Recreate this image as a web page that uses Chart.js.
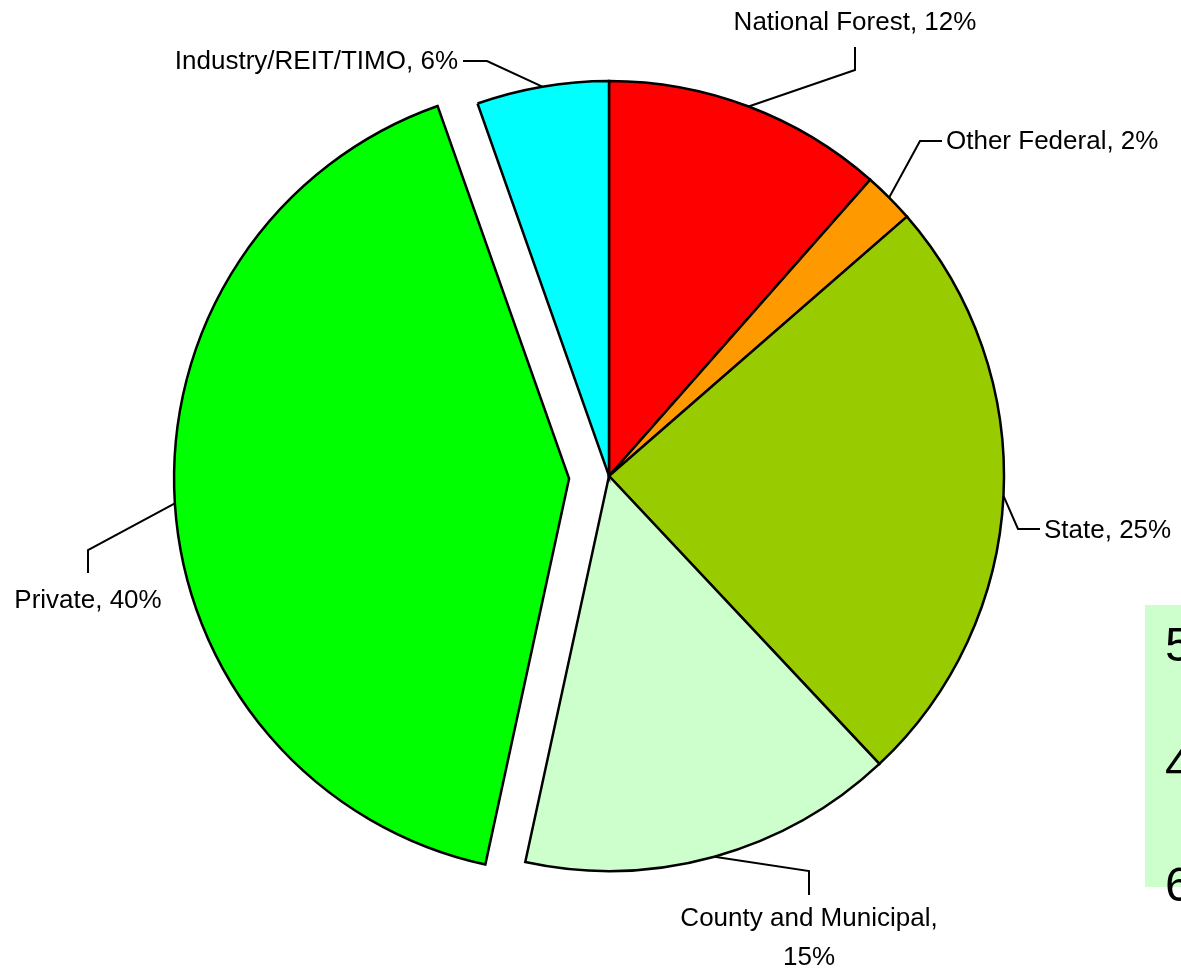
<!DOCTYPE html>
<html>
<head>
<meta charset="utf-8">
<script src="https://cdn.jsdelivr.net/npm/chart.js@4.4.0/dist/chart.umd.min.js"></script>
<style>
  html, body { margin: 0; padding: 0; background: #fff; overflow: hidden; }
  #wrap { position: relative; width: 1181px; height: 970px; }
  #ownerChart { position: absolute; left: 0; top: 0; }
  #sideTable {
    position: absolute; left: 1145px; top: 605px; width: 80px; height: 282px;
    background: #ccffcc; font-family: "Liberation Sans", Arial, sans-serif; font-size: 49px;
  }
  #sideTable div { position: absolute; left: 20px; line-height: 1; }
</style>
</head>
<body>
<div id="wrap">
  <canvas id="ownerChart" width="1181" height="970"></canvas>
  <div id="sideTable"></div>
</div>
<script>
// forest ownership shares, clockwise from 12 o'clock
const categories = ["National Forest", "Other Federal", "State", "County and Municipal", "Private", "Industry/REIT/TIMO"];
const shares = [11.5, 2.1, 24.4, 15.4, 41.2, 5.4];
const percentLabels = ["12%", "2%", "25%", "15%", "40%", "6%"];
const sliceColors = ["#ff0000", "#ff9900", "#99cc00", "#ccffcc", "#00ff00", "#00ffff"];
const exploded = [false, false, false, false, true, false];
const sideTableDigits = ["5", "4", "6"];

const EXPLODE = 40;

// where each data label sits, with the bend of its leader line
const labelLayout = [
  { elbow: [855, 70], end: [855, 47], x: 855, y: 22, align: "center" },
  { elbow: [920, 141], end: [942, 141], x: 946, y: 141, align: "left" },
  { elbow: [1018, 529], end: [1040, 529], x: 1044, y: 530, align: "left" },
  { elbow: [809, 871], end: [809, 895], x: 809, y: 918, align: "center", wrap: true },
  { elbow: [88, 550], end: [88, 573], x: 88, y: 600, align: "center" },
  { elbow: [487, 61], end: [463, 61], x: 458, y: 61, align: "right" }
];

const side = document.getElementById("sideTable");
sideTableDigits.forEach((d, i) => {
  const el = document.createElement("div");
  el.textContent = d;
  el.style.top = (15 + i * 120) + "px";
  side.appendChild(el);
});

const slicePlugin = {
  id: "slices",
  beforeDatasetDraw(chart, args) {
    const ctx = chart.ctx;
    args.meta.data.forEach((arc, i) => {
      ctx.save();
      if (exploded[i]) {
        const mid = (arc.startAngle + arc.endAngle) / 2;
        ctx.translate(Math.cos(mid) * EXPLODE, Math.sin(mid) * EXPLODE);
      }
      arc.draw(ctx);
      ctx.restore();
    });
    return false;
  },
  afterDatasetsDraw(chart) {
    const ctx = chart.ctx;
    const arcs = chart.getDatasetMeta(0).data;
    ctx.save();
    ctx.strokeStyle = "#000";
    ctx.lineWidth = 2;
    ctx.fillStyle = "#000";
    ctx.font = '26px "Liberation Sans", Arial, sans-serif';
    ctx.textBaseline = "middle";
    arcs.forEach((arc, i) => {
      const lay = labelLayout[i];
      const mid = (arc.startAngle + arc.endAngle) / 2;
      const shift = exploded[i] ? EXPLODE : 0;
      const sx = arc.x + Math.cos(mid) * (arc.outerRadius + shift);
      const sy = arc.y + Math.sin(mid) * (arc.outerRadius + shift);
      ctx.beginPath();
      ctx.moveTo(sx, sy);
      ctx.lineTo(lay.elbow[0], lay.elbow[1]);
      ctx.lineTo(lay.end[0], lay.end[1]);
      ctx.stroke();
      ctx.textAlign = lay.align;
      if (lay.wrap) {
        ctx.fillText(categories[i] + ",", lay.x, lay.y + 1);
        ctx.fillText(percentLabels[i], lay.x, lay.y + 40);
      } else {
        ctx.fillText(categories[i] + ", " + percentLabels[i], lay.x, lay.y + 1);
      }
    });
    ctx.restore();
  }
};

new Chart(document.getElementById("ownerChart").getContext("2d"), {
  type: "pie",
  data: {
    labels: categories,
    datasets: [{
      data: shares,
      backgroundColor: sliceColors,
      borderColor: "#000",
      borderWidth: 2.5,
      borderJoinStyle: "miter"
    }]
  },
  options: {
    responsive: false,
    animation: false,
    events: [],
    radius: 395,
    layout: { padding: { left: 37, right: 0, top: 0, bottom: 18 } },
    plugins: {
      legend: { display: false },
      tooltip: { enabled: false }
    }
  },
  plugins: [slicePlugin]
});
</script>
</body>
</html>
